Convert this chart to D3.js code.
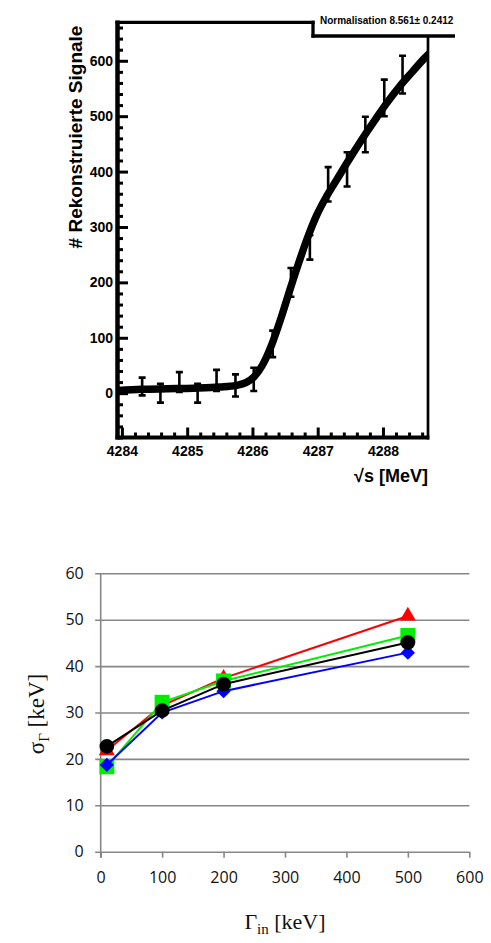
<!DOCTYPE html>
<html><head><meta charset="utf-8">
<script src="https://cdn.jsdelivr.net/npm/d3@7"></script>
<style>body{margin:0;background:#fff}svg{display:block}</style>
</head><body>
<svg id="chart" width="491" height="943"></svg>
<script>
// ---- Upper panel: reconstructed signal counts vs. sqrt(s) ----
const sqrtS = [4284.31, 4284.59, 4284.88, 4285.16, 4285.45, 4285.74, 4286.02, 4286.31,
               4286.59, 4286.88, 4287.16, 4287.45, 4287.73, 4288.02, 4288.30];
const signals = [12, 0, 20, 0, 23, 14, 25, 89, 200, 263, 377, 404, 467, 533, 575];
const signalErr = [16, 17, 18, 17, 19, 20, 21, 24, 26, 22, 31, 31, 32, 33, 34];
// fitted line-shape
const fitSqrtS = [4283.94, 4284.3, 4284.7, 4285.1, 4285.5, 4285.75, 4285.9, 4286.02, 4286.15, 4286.29,
                  4286.45, 4286.57, 4286.7, 4286.83, 4286.98, 4287.14, 4287.29, 4287.44, 4287.6,
                  4287.75, 4287.9, 4288.06, 4288.25, 4288.45, 4288.64, 4288.72];
const fitSignals = [5, 7, 8, 9, 11, 14, 19, 29, 50, 86, 140, 185, 232, 276, 320, 356, 385, 414, 444,
                    471, 497, 524, 553, 580, 605, 614];
const topXTicks = [4284, 4285, 4286, 4287, 4288];
const topYTicks = [0, 100, 200, 300, 400, 500, 600];
const normalisationLabel = "Normalisation 8.561\u00b1 0.2412";

// ---- Lower panel: sigma_Gamma vs. Gamma_in ----
const gammaIn = [10, 100, 200, 500];
const sigmaRed = [21.8, 31.5, 37.4, 50.8];
const sigmaGreen = [18.3, 32.2, 36.8, 46.6];
const sigmaBlue = [18.7, 30.0, 34.6, 42.9];
const sigmaBlack = [22.7, 30.4, 36.1, 45.1];
const lowXTicks = [0, 100, 200, 300, 400, 500, 600];
const lowYTicks = [0, 10, 20, 30, 40, 50, 60];

const svg = d3.select("#chart");

// ================= upper panel =================
const x1 = d3.scaleLinear().domain([4283.94, 4288.69]).range([118, 428]);
const y1 = d3.scaleLinear().domain([-80, 670]).range([437.5, 22]);
const upper = svg.append("g").attr("font-family", "'Liberation Sans', Arial, sans-serif");

upper.append("clipPath").attr("id", "plotClip")
  .append("rect").attr("x", 118).attr("y", 22).attr("width", 310).attr("height", 415.5);

// minor ticks
const minorX = d3.range(4284, 4288.61, 0.2).filter(v => Math.abs(v - Math.round(v)) > 0.01);
const minorY = d3.range(-80, 661, 20).filter(v => v % 100 !== 0);

const styleAxis = (g) => {
  g.select(".domain").remove();
  g.selectAll(".tick line").attr("stroke", "#000").attr("stroke-width", 3);
};

upper.append("g").attr("transform", "translate(118,0)")
  .call(d3.axisLeft(y1).tickValues(minorY).tickSize(-5).tickFormat(""))
  .call(styleAxis);
upper.append("g").attr("transform", "translate(118,0)")
  .call(d3.axisLeft(y1).tickValues(topYTicks).tickSize(-10).tickPadding(5).tickFormat(d3.format("d")))
  .call(styleAxis)
  .call(g => g.selectAll("text").attr("font-size", 14).attr("font-weight", "bold").attr("fill", "#000"));

upper.append("g").attr("transform", "translate(0,437.5)")
  .call(d3.axisBottom(x1).tickValues(minorX).tickSize(-5).tickFormat(""))
  .call(styleAxis);
upper.append("g").attr("transform", "translate(0,437.5)")
  .call(d3.axisBottom(x1).tickValues(topXTicks).tickSize(-10).tickPadding(9).tickFormat(d3.format("d")))
  .call(styleAxis)
  .call(g => g.selectAll("text").attr("font-size", 14).attr("font-weight", "bold").attr("fill", "#000"));

// frame
const frame = upper.append("g").attr("stroke", "#000").attr("fill", "none");
frame.append("line").attr("x1", 117.5).attr("x2", 117.5).attr("y1", 20.5).attr("y2", 439.5).attr("stroke-width", 4.5);
frame.append("line").attr("x1", 115.5).attr("x2", 429.3).attr("y1", 437.5).attr("y2", 437.5).attr("stroke-width", 4);
frame.append("line").attr("x1", 115.5).attr("x2", 314.6).attr("y1", 22.3).attr("y2", 22.3).attr("stroke-width", 3.3);
frame.append("line").attr("x1", 313).attr("x2", 313).attr("y1", 20.7).attr("y2", 37.6).attr("stroke-width", 3.3);
frame.append("line").attr("x1", 311.4).attr("x2", 455).attr("y1", 36).attr("y2", 36).attr("stroke-width", 3.3);
frame.append("line").attr("x1", 428).attr("x2", 428).attr("y1", 36).attr("y2", 439.5).attr("stroke-width", 2.7);

upper.append("text").attr("x", 320).attr("y", 23.5)
  .attr("font-size", 10).attr("font-weight", "bold").attr("fill", "#000")
  .text(normalisationLabel);

// error bars
const pts = sqrtS.map((s, i) => ({ s, v: signals[i], e: signalErr[i] }));
const eb = upper.append("g").attr("stroke", "#000").attr("stroke-width", 2.6).attr("clip-path", "url(#plotClip)");
pts.forEach(p => {
  const cx = x1(p.s), yt = y1(p.v + p.e), yb = y1(p.v - p.e);
  eb.append("line").attr("x1", cx).attr("x2", cx).attr("y1", yt).attr("y2", yb);
  eb.append("line").attr("x1", cx - 3.5).attr("x2", cx + 3.5).attr("y1", yt).attr("y2", yt);
  eb.append("line").attr("x1", cx - 3.5).attr("x2", cx + 3.5).attr("y1", yb).attr("y2", yb);
});

// fitted curve
const fit = fitSqrtS.map((s, i) => [s, fitSignals[i]]);
upper.append("path").datum(fit)
  .attr("clip-path", "url(#plotClip)")
  .attr("fill", "none").attr("stroke", "#000").attr("stroke-width", 7.5)
  .attr("d", d3.line().x(d => x1(d[0])).y(d => y1(d[1])).curve(d3.curveMonotoneX));

// axis titles
upper.append("text")
  .attr("transform", "translate(82,137) rotate(-90)")
  .attr("text-anchor", "middle").attr("font-size", 19).attr("font-weight", "bold").attr("fill", "#000")
  .text("# Rekonstruierte Signale");
upper.append("text").attr("x", 428).attr("y", 482)
  .attr("text-anchor", "end").attr("font-size", 18).attr("font-weight", "bold").attr("fill", "#000")
  .text("\u221as [MeV]");

// ================= lower panel =================
const x2 = d3.scaleLinear().domain([0, 600]).range([100.7, 469.3]);
const y2 = d3.scaleLinear().domain([0, 60]).range([851.7, 573.3]);
const low = svg.append("g");
const gridColor = "#878787";

low.append("g").attr("transform", "translate(100.7,0)")
  .call(d3.axisLeft(y2).tickValues(lowYTicks).tickSize(-368.6).tickPadding(17).tickSizeOuter(0))
  .call(g => g.select(".domain").remove())
  .call(g => g.selectAll(".tick line").attr("stroke", gridColor).attr("stroke-width", 1.6).attr("x1", -5.5))
  .call(g => g.selectAll("text").attr("font-family", "'Open Sans', sans-serif").attr("font-size", 16).attr("fill", "#111"));

low.append("g").attr("transform", "translate(0,851.7)")
  .call(d3.axisBottom(x2).tickValues(lowXTicks).tickSize(6).tickPadding(14).tickSizeOuter(0))
  .call(g => g.select(".domain").remove())
  .call(g => g.selectAll(".tick line").attr("stroke", gridColor).attr("stroke-width", 1.6))
  .call(g => g.selectAll("text").attr("font-family", "'Open Sans', sans-serif").attr("font-size", 16).attr("fill", "#111"));

low.append("line").attr("x1", 100.7).attr("x2", 100.7).attr("y1", 573.3).attr("y2", 857.7)
  .attr("stroke", gridColor).attr("stroke-width", 1.6);

const series = [
  { vals: sigmaRed, color: "#ff0000", marker: "triangle" },
  { vals: sigmaGreen, color: "#00ee00", marker: "square" },
  { vals: sigmaBlue, color: "#0000ff", marker: "diamond" },
  { vals: sigmaBlack, color: "#000000", marker: "circle" }
];
const markerPath = {
  triangle: d3.symbol(d3.symbolTriangle, 110)(),
  square: d3.symbol(d3.symbolSquare, 225)(),
  diamond: d3.symbol(d3.symbolSquare, 100)(),
  circle: d3.symbol(d3.symbolCircle, 170)()
};
const line2 = d3.line().x(d => x2(d[0])).y(d => y2(d[1]));
series.forEach(sr => {
  const data = gammaIn.map((g, i) => [g, sr.vals[i]]);
  const g = low.append("g");
  g.append("path").datum(data).attr("fill", "none").attr("stroke", sr.color).attr("stroke-width", 2).attr("d", line2);
  g.selectAll("path.m").data(data).join("path").attr("class", "m")
    .attr("transform", d => `translate(${x2(d[0])},${y2(d[1])})` + (sr.marker === "diamond" ? " rotate(45)" : ""))
    .attr("d", markerPath[sr.marker]).attr("fill", sr.color);
});

// axis titles (serif)
const yTitle = low.append("text")
  .attr("transform", "translate(44,714) rotate(-90)")
  .attr("text-anchor", "middle").attr("font-family", "'Liberation Serif', 'Times New Roman', serif")
  .attr("font-size", 23).attr("fill", "#111");
yTitle.append("tspan").text("\u03c3");
yTitle.append("tspan").attr("font-size", 15).attr("dy", 5).text("\u0393");
yTitle.append("tspan").attr("dy", -5).text(" [keV]");

const xTitle = low.append("text")
  .attr("x", 285).attr("y", 929)
  .attr("text-anchor", "middle").attr("font-family", "'Liberation Serif', 'Times New Roman', serif")
  .attr("font-size", 22).attr("fill", "#111");
xTitle.append("tspan").text("\u0393");
xTitle.append("tspan").attr("font-size", 15).attr("dy", 5).text("in");
xTitle.append("tspan").attr("dy", -5).text(" [keV]");
</script>
</body></html>
